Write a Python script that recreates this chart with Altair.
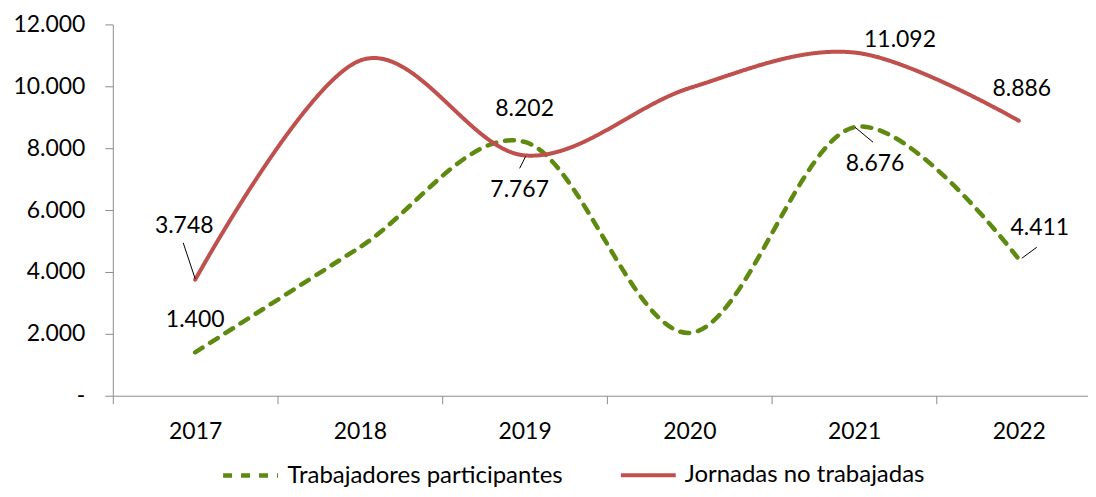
import altair as alt
import pandas as pd

# ---- data ----
years = [2017, 2018, 2019, 2020, 2021, 2022]
trabajadores = [1400, 4800, 8202, 2030, 8676, 4411]
jornadas = [3748, 10830, 7767, 9940, 11092, 8886]
series_names = ["Trabajadores participantes", "Jornadas no trabajadas"]
series_colors = ["#5E8A10", "#C0504D"]

# which points carry a value label (series index, year)
label_series = [1, 0, 0, 1, 1, 0, 1, 0]
label_years = [2017, 2017, 2019, 2019, 2021, 2021, 2022, 2022]
# label offsets in pixels from the data point
label_dx = [-11, 0, 0, -5, 46, 21, 3, 21]
label_dy = [-54, -32, -33, 35, -13, 37, -32, -31]

# leader lines: (series index, year, start dx, start dy, end dx, end dy)
leaders = [
    (1, 2017, -12, -37, 0, -1),
    (1, 2019, 1, 1, -5, 13),
    (0, 2021, 1, 0, 19, 15),
    (0, 2022, 3, -1, 18, -12),
]

values_by_series = [trabajadores, jornadas]

rows = []
for s, vals in zip(series_names, values_by_series):
    for y, v in zip(years, vals):
        rows.append({"serie": s, "year": y, "value": v})
df = pd.DataFrame(rows)


def fmt(v):
    return f"{v:,}".replace(",", ".")


FONT = "Lato"
FS = 23
AX = "#8C8C8C"

x_vals = []
for y in years:
    x_vals += [y - 0.5, y]

x_scale = alt.Scale(domain=[2016.5, 2022.42], nice=False, zero=False)
y_scale = alt.Scale(domain=[0, 12000], nice=False)

x_axis = alt.Axis(
    values=x_vals,
    labelExpr="datum.value % 1 == 0 ? '' + datum.value : ''",
    tickColor={"condition": {"test": "datum.value % 1 == 0", "value": "transparent"},
               "value": AX},
    tickSize=8,
    labelPadding=17,
    labelOverlap=False,
    title=None,
    grid=False,
)
y_axis = alt.Axis(
    values=[0, 2000, 4000, 6000, 8000, 10000, 12000],
    labelExpr="datum.value == 0 ? '-' : replace(format(datum.value, ','), ',', '.')",
    tickSize=8,
    labelPadding=20,
    title=None,
    grid=False,
)

legend = alt.Legend(
    orient="none", legendX=108, legendY=422, direction="horizontal", title=None,
    symbolType="stroke", symbolSize=3025, symbolStrokeWidth=4.5,
    labelFont=FONT, labelFontSize=24, labelColor="black", labelLimit=0,
    columnPadding=50, labelOffset=7, padding=0,
)

base = alt.Chart(df)

lines = base.mark_line(interpolate="cardinal", tension=0, strokeCap="round").encode(
    x=alt.X("year:Q", scale=x_scale, axis=x_axis),
    y=alt.Y("value:Q", scale=y_scale, axis=y_axis),
    color=alt.Color("serie:N", scale=alt.Scale(domain=series_names, range=series_colors),
                    legend=legend, sort=series_names),
    strokeDash=alt.StrokeDash("serie:N",
                              scale=alt.Scale(domain=series_names, range=[[9, 9], [1, 0]]),
                              legend=legend, sort=series_names),
    strokeWidth=alt.StrokeWidth("serie:N",
                                scale=alt.Scale(domain=series_names, range=[4.5, 4]),
                                legend=None),
    order=alt.Order("year:Q"),
)

label_layers = []
for si, y, dx, dy in zip(label_series, label_years, label_dx, label_dy):
    v = values_by_series[si][years.index(y)]
    d = pd.DataFrame([{"year": y, "value": v, "label": fmt(v)}])
    label_layers.append(
        alt.Chart(d).mark_text(font=FONT, fontSize=FS, color="black", align="center",
                               baseline="middle", dx=dx, dy=dy).encode(
            x=alt.X("year:Q", scale=x_scale),
            y=alt.Y("value:Q", scale=y_scale),
            text="label:N",
        )
    )

leader_layers = []
for si, y, sx, sy, ex, ey in leaders:
    v = values_by_series[si][years.index(y)]
    d = pd.DataFrame([{"year": y, "value": v}])
    leader_layers.append(
        alt.Chart(d).mark_rule(color="black", strokeWidth=1,
                               xOffset=sx, yOffset=sy, x2Offset=ex, y2Offset=ey).encode(
            x=alt.X("year:Q", scale=x_scale),
            x2="year:Q",
            y=alt.Y("value:Q", scale=y_scale),
            y2="value:Q",
        )
    )

chart = alt.layer(lines, *leader_layers, *label_layers).properties(
    width=977,
    height=372,
    autosize=alt.AutoSizeParams(type="none"),
    padding={"left": 105, "top": 16, "right": 0, "bottom": 93},
).configure_view(stroke=None).configure_axis(
    labelFont=FONT, labelFontSize=FS, labelColor="black",
    domainColor=AX, domainWidth=1, tickColor=AX, tickWidth=1,
)

chart.save("out.html", embed_options={"renderer": "svg", "actions": False})
